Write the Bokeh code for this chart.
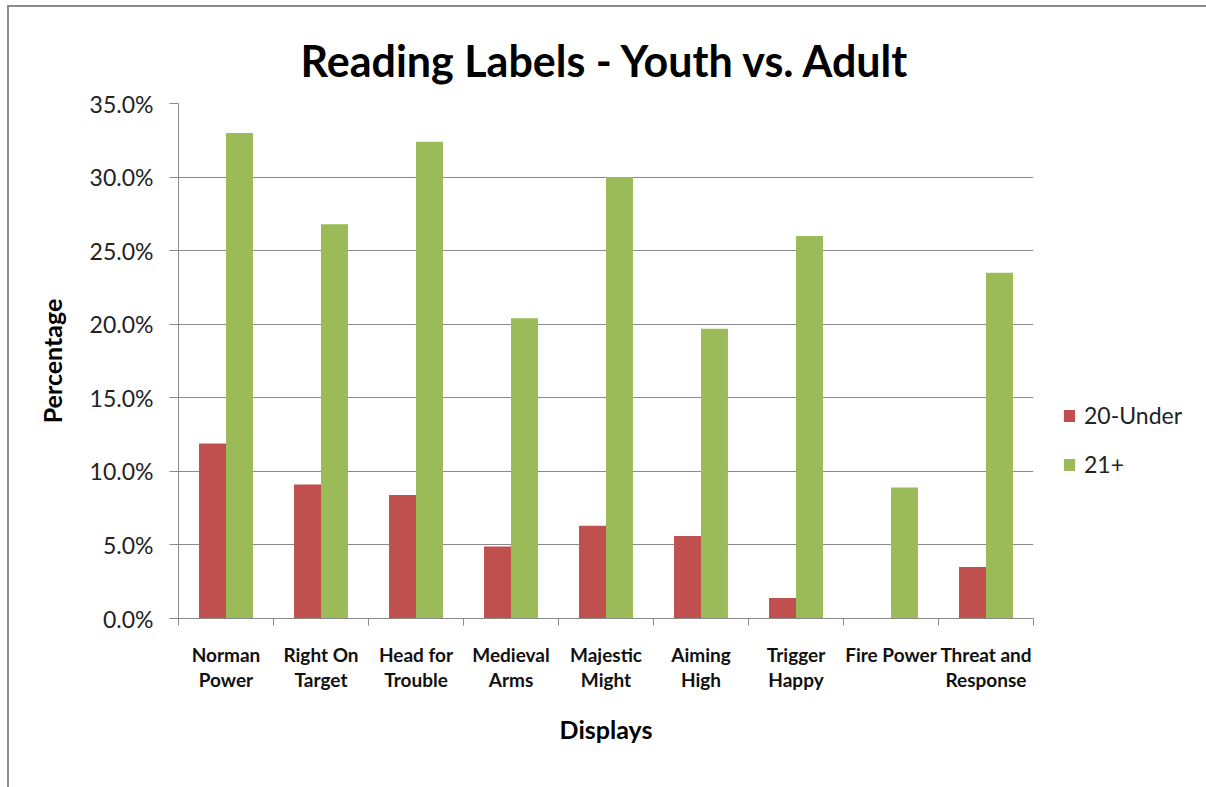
from bokeh.plotting import figure
from bokeh.models import (ColumnDataSource, FixedTicker, NumeralTickFormatter,
                          Range1d, Legend, LegendItem, InlineStyleSheet)
from bokeh.transform import dodge
from bokeh.embed import file_html
from bokeh.resources import INLINE

# Displays surveyed and share of visitors reading each label
categories = ["Norman Power", "Right On Target", "Head for Trouble", "Medieval Arms",
              "Majestic Might", "Aiming High", "Trigger Happy", "Fire Power",
              "Threat and Response"]
tick_labels = ["Norman\nPower", "Right On\nTarget", "Head for\nTrouble", "Medieval\nArms",
               "Majestic\nMight", "Aiming\nHigh", "Trigger\nHappy", "Fire Power",
               "Threat and\nResponse"]
under_20 = [0.119, 0.091, 0.084, 0.049, 0.063, 0.056, 0.014, 0.0, 0.035]
adult_21 = [0.330, 0.268, 0.324, 0.204, 0.300, 0.197, 0.260, 0.089, 0.235]
y_ticks = [0.0, 0.05, 0.10, 0.15, 0.20, 0.25, 0.30, 0.35]

RED = "#C0504D"
GREEN = "#9BBB59"
GRID = "#8A8A8A"
FONT = "Lato"

centers = [i + 0.5 for i in range(len(categories))]
bounds = [float(i) for i in range(len(categories) + 1)]

src = ColumnDataSource(dict(x=centers, cat=categories, under=under_20, adult=adult_21))

p = figure(frame_width=855, frame_height=515, output_backend="svg", toolbar_location=None,
           x_range=Range1d(0, len(categories)), y_range=Range1d(0, 0.35),
           min_border_left=178, min_border_right=173, min_border_top=103,
           min_border_bottom=169, background_fill_color="white",
           border_fill_color="white", outline_line_color=None)

# outer chart-area border (top and left edges)
p.stylesheets = [InlineStyleSheet(css="""
:host { position: relative; }
:host::after {
  content: ""; position: absolute; left: 7px; top: 5px; right: -20px; bottom: -20px;
  border-left: 2px solid #8C8C8C; border-top: 2px solid #8C8C8C;
  pointer-events: none;
}
""")]

bar_w = 0.284
r1 = p.vbar(x=dodge("x", -bar_w / 2, range=p.x_range), top="under", width=bar_w,
            source=src, fill_color=RED, line_color=None)
r2 = p.vbar(x=dodge("x", bar_w / 2, range=p.x_range), top="adult", width=bar_w,
            source=src, fill_color=GREEN, line_color=None)

# title
p.title.text = "Reading Labels - Youth vs. Adult"
p.title.align = "center"
p.title.text_font = FONT
p.title.text_font_size = "43px"
p.title.text_font_style = "bold"
p.title.text_color = "#000000"
p.title.standoff = 36

# y axis
p.yaxis.ticker = FixedTicker(ticks=y_ticks)
p.yaxis.formatter = NumeralTickFormatter(format="0.0%")
p.yaxis.axis_label = "Percentage"
p.yaxis.axis_label_text_font = FONT
p.yaxis.axis_label_text_font_size = "25px"
p.yaxis.axis_label_text_font_style = "bold"
p.yaxis.axis_label_text_color = "#000000"
p.yaxis.axis_label_standoff = 20
p.yaxis.major_label_text_font = FONT
p.yaxis.major_label_text_font_size = "23px"
p.yaxis.major_label_text_color = "#222222"
p.yaxis.major_label_standoff = 16
p.yaxis.axis_line_color = GRID
p.yaxis.major_tick_line_color = GRID
p.yaxis.major_tick_out = 9
p.yaxis.major_tick_in = 0
p.yaxis.minor_tick_line_color = None

# x axis: labels at category centres, tick marks on category boundaries
p.xaxis.ticker = FixedTicker(ticks=centers, minor_ticks=bounds)
p.xaxis.major_label_overrides = {c: t for c, t in zip(centers, tick_labels)}
p.xaxis.axis_label = "Displays"
p.xaxis.axis_label_text_font = FONT
p.xaxis.axis_label_text_font_size = "25px"
p.xaxis.axis_label_text_font_style = "bold"
p.xaxis.axis_label_text_color = "#000000"
p.xaxis.axis_label_standoff = 20
p.xaxis.major_label_text_font = FONT
p.xaxis.major_label_text_font_size = "19px"
p.xaxis.major_label_text_font_style = "bold"
p.xaxis.major_label_text_color = "#111111"
p.xaxis.major_label_text_line_height = 1.1
p.xaxis.major_label_standoff = 17
p.xaxis.major_label_orientation = "horizontal"
p.xaxis.axis_line_color = GRID
p.xaxis.major_tick_line_color = None
p.xaxis.major_tick_out = 0
p.xaxis.major_tick_in = 0
p.xaxis.minor_tick_line_color = GRID
p.xaxis.minor_tick_out = 7
p.xaxis.minor_tick_in = 0

p.xgrid.grid_line_color = None
p.ygrid.grid_line_color = GRID
p.ygrid.grid_line_width = 1

# legend sits in the panel to the right of the plotting frame
legend = Legend(items=[LegendItem(label="20-Under", renderers=[r1]),
                       LegendItem(label="21+", renderers=[r2])],
                location=(29, 140), orientation="vertical",
                label_text_font=FONT, label_text_font_size="23px",
                label_text_color="#222222", glyph_width=14, glyph_height=15,
                label_height=28, label_standoff=8, spacing=21, padding=0,
                margin=0, border_line_color=None, background_fill_alpha=0)
p.add_layout(legend, "right")

open("out.html", "w").write(file_html(p, INLINE))
